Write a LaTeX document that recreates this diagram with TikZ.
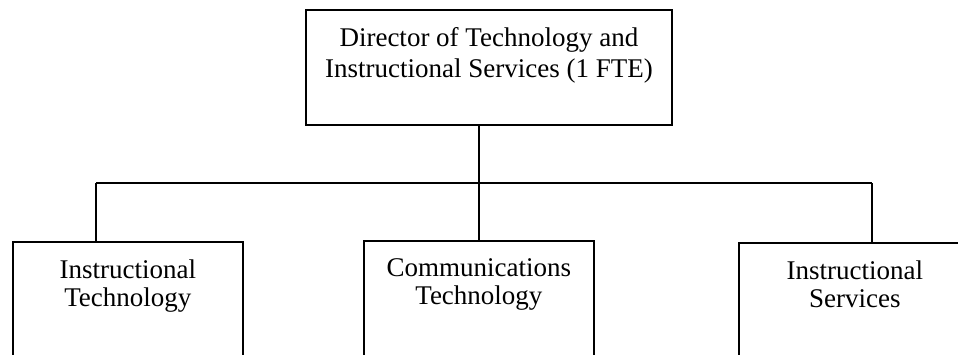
\documentclass[tikz,border=0pt]{standalone}
\usepackage{fontspec}
\setmainfont{Liberation Serif}
\usepackage{tikz}

\begin{document}
\begin{tikzpicture}[x=1pt, y=-1pt, line width=1.8pt,
        unit/.style={rectangle, draw, anchor=north west, inner sep=0pt, minimum width=230pt, minimum height=150pt},
        caption/.style={anchor=north, inner sep=0pt, yshift=-17.5pt, align=center, font=\fontsize{27}{28}\selectfont}]
        \path[use as bounding box, clip] (0,0) rectangle (958,354);

        \node (dir) [unit, minimum width=366pt, minimum height=115pt] at (305,9) {};
        \node (dirT) [caption, font=\fontsize{27}{31}\selectfont] at (dir.north) {Director of Technology and\\Instructional Services (1 FTE)};

        \node (itech) [unit] at (12,241) {};
        \node (itechT) [caption] at (itech.north) {Instructional\\Technology};
        \node (ctech) [unit] at (363,240) {};
        \node (ctechT) [caption] at (ctech.north) {Communications\\Technology};
        \node (iserv) [unit, minimum width=232pt] at (738,242) {};
        \node (iservT) [caption] at (iserv.north) {Instructional\\Services};

        \coordinate (busL) at (96,183);
        \coordinate (busR) at (872,183);

        \draw (ctech.north) -- (ctech.north |- dir.south);
        \draw (busL) -- (busR);
        \draw (busL) -- (busL |- itech.north);
        \draw (busR) -- (busR |- iserv.north);
    \end{tikzpicture}
\end{document}
